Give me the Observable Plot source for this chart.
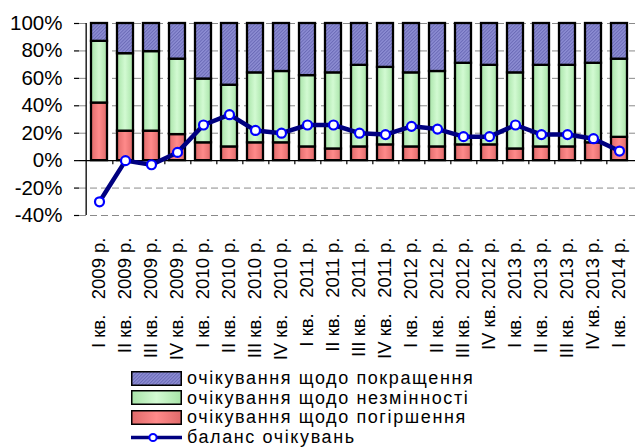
<!DOCTYPE html>
<html>
<head>
<meta charset="utf-8">
<script src="https://cdn.jsdelivr.net/npm/d3@7"></script>
<script src="https://cdn.jsdelivr.net/npm/@observablehq/plot@0.6"></script>
<style>
  html, body { margin: 0; padding: 0; background: #fff; }
  body { width: 635px; height: 448px; position: relative; overflow: hidden; font-family: "Liberation Sans", Arial, sans-serif; }
  #chart { position: absolute; left: 0; top: 0; }
  #legend { position: absolute; left: 131px; top: 0; }
  .row { position: absolute; left: 0; display: flex; align-items: center; height: 18px; white-space: nowrap; }
  .row span { font-size: 18px; letter-spacing: 1.6px; margin-left: 5px; line-height: 18px; color: #000; }
</style>
</head>
<body>
<div id="chart"></div>
<div id="legend"></div>
<script>
const NB = "\u00A0\u00A0\u00A0";
const quarters = [
  "I кв." + NB + "2009 р.", "II кв." + NB + "2009 р.", "III кв." + NB + "2009 р.", "IV кв." + NB + "2009 р.",
  "I кв." + NB + "2010 р.", "II кв." + NB + "2010 р.", "III кв." + NB + "2010 р.", "IV кв." + NB + "2010 р.",
  "I кв." + NB + "2011 р.", "II кв." + NB + "2011 р.", "III кв." + NB + "2011 р.", "IV кв." + NB + "2011 р.",
  "I кв." + NB + "2012 р.", "II кв." + NB + "2012 р.", "III кв." + NB + "2012 р.", "IV кв." + "\u00A0" + "2012 р.",
  "I кв." + NB + "2013 р.", "II кв." + NB + "2013 р.", "III кв." + NB + "2013 р.", "IV кв." + "\u00A0" + "2013 р.",
  "I кв." + NB + "2014 р."
];
const deterioration = [42, 21.5, 21.5, 19, 13, 10, 13, 13, 10, 8.5, 10, 11.5, 10, 10, 11.5, 11.5, 8.5, 10, 10, 13, 17];
const unchanged     = [45, 56.5, 58, 55, 46.5, 45, 51, 52, 52, 55.5, 59.5, 56.5, 54, 55, 59.5, 58, 55.5, 59.5, 59.5, 58, 57];
const improvement   = [13, 22, 20.5, 26, 40.5, 45, 36, 35, 38, 36, 30.5, 32, 36, 35, 29, 30.5, 36, 30.5, 30.5, 29, 26];
const balance       = [-30, 0, -3, 6, 26, 33.5, 22, 20, 26, 26, 20, 19, 25, 23, 17.5, 17.5, 26, 19, 19, 16, 7];
const seriesNames = ["очікування щодо погіршення", "очікування щодо незмінності", "очікування щодо покращення"];
const lineName = "баланс очікувань";
const yTicks = [-40, -20, 0, 20, 40, 60, 80, 100];

const table = [];
quarters.forEach((q, i) => {
  table.push({q, s: seriesNames[0], v: deterioration[i]});
  table.push({q, s: seriesNames[1], v: unchanged[i]});
  table.push({q, s: seriesNames[2], v: improvement[i]});
});
const lineData = quarters.map((q, i) => ({q, v: balance[i]}));

const W = 635, H = 365, ML = 79, MR = -4;
const step = (W - MR - ML) / quarters.length;

const plot = Plot.plot({
  width: W,
  height: H,
  marginLeft: ML,
  marginRight: MR,
  marginTop: 23,
  marginBottom: 150,
  style: {fontFamily: "'Liberation Sans', Arial, sans-serif", color: "#000", background: "transparent"},
  x: {type: "band", domain: quarters, paddingInner: 0.4, paddingOuter: 0.2, label: null},
  y: {domain: [-40, 100], label: null},
  color: {domain: seriesNames, range: ["url(#gRed)", "url(#gGreen)", "url(#pBlue)"]},
  marks: [
    Plot.gridY(yTicks.filter(d => d !== 0), {stroke: "#8a8a8a", strokeOpacity: 1, strokeWidth: 1, strokeDasharray: "7,4"}),
    Plot.axisY({ticks: yTicks, tickFormat: d => d + "%", tickSize: 5, tickPadding: 12, fontSize: 20.5, strokeWidth: 1.2}),
    Plot.axisX({anchor: "bottom", tickRotate: -90, tickSize: 0, tickPadding: 22, fontSize: 18.5}),
    Plot.ruleX([quarters[0]], {y1: -40, y2: 100, dx: -step / 2, stroke: "#000", strokeWidth: 1.3}),
    Plot.ruleX(quarters.slice(0, -1), {y1: 0, y2: -3, dx: step / 2, stroke: "#000", strokeWidth: 1.2}),
    Plot.barY(table, Plot.stackY({x: "q", y: "v", fill: "s", stroke: "#000", strokeWidth: 2.3})),
    Plot.ruleY([0], {stroke: "#000", strokeWidth: 1.3}),
    Plot.line(lineData, {x: "q", y: "v", stroke: "#000080", strokeWidth: 4.5, strokeLinejoin: "round"}),
    Plot.dot(lineData, {x: "q", y: "v", r: 4.5, fill: "#fff", stroke: "#0000ff", strokeWidth: 2.2})
  ]
});

function addDefs(svgNode) {
  const defs = d3.select(svgNode).insert("defs", ":first-child");
  const grad = (id, edge, mid) => {
    const g = defs.append("linearGradient").attr("id", id).attr("x1", "0").attr("x2", "1").attr("y1", "0").attr("y2", "0");
    g.append("stop").attr("offset", "0%").attr("stop-color", edge);
    g.append("stop").attr("offset", "50%").attr("stop-color", mid);
    g.append("stop").attr("offset", "100%").attr("stop-color", edge);
  };
  grad("gRed", "#e06a6a", "#ff8a8a");
  grad("gGreen", "#a8e4a8", "#d2fad2");
  const p = defs.append("pattern").attr("id", "pBlue").attr("patternUnits", "userSpaceOnUse")
    .attr("width", 2.4).attr("height", 2.4).attr("patternTransform", "rotate(45)");
  p.append("rect").attr("width", 2.4).attr("height", 2.4).attr("fill", "#8e8ed4");
  p.append("rect").attr("width", 1).attr("height", 2.4).attr("fill", "#6a6ab6");
}
addDefs(plot);
document.getElementById("chart").appendChild(plot);

// legend
const legend = document.getElementById("legend");
const rowCenters = [378, 397.5, 417, 437];
const swatches = [
  [seriesNames[2], "pBlue"],
  [seriesNames[1], "gGreen"],
  [seriesNames[0], "gRed"]
];
swatches.forEach(([name, id], i) => {
  const row = document.createElement("div");
  row.className = "row";
  row.style.top = (rowCenters[i] - 9) + "px";
  row.innerHTML = `<svg width="51" height="15" style="display:block"><rect x="0.75" y="0.75" width="49.5" height="13.5" fill="url(#${id})" stroke="#000" stroke-width="1.5"/></svg><span>${name}</span>`;
  legend.appendChild(row);
});
{
  const row = document.createElement("div");
  row.className = "row";
  row.style.top = (rowCenters[3] - 9) + "px";
  row.innerHTML = `<svg width="51" height="15" style="display:block"><line x1="0" x2="51" y1="7.5" y2="7.5" stroke="#000080" stroke-width="3.5"/><circle cx="22" cy="7.5" r="3.6" fill="#fff" stroke="#0000ff" stroke-width="2"/></svg><span>${lineName}</span>`;
  legend.appendChild(row);
}
</script>
</body>
</html>
